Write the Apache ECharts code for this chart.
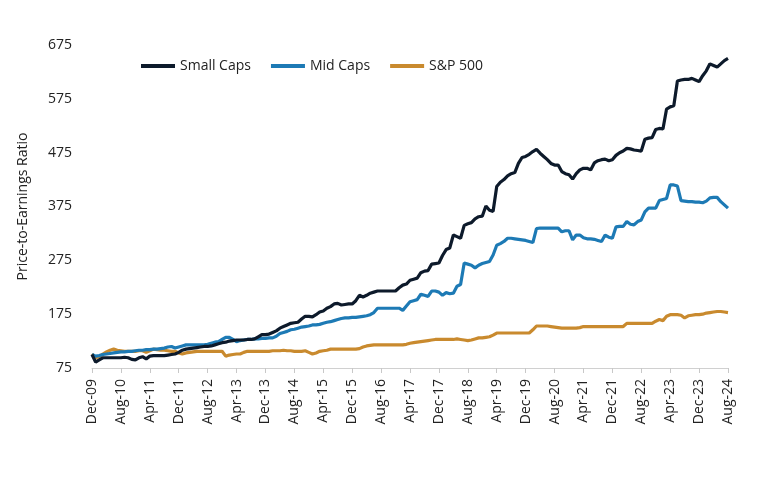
<!DOCTYPE html>
<html>
<head>
<meta charset="utf-8">
<script src="https://cdn.jsdelivr.net/npm/echarts@6/dist/echarts.min.js"></script>
<style>
html,body{margin:0;padding:0;background:#fff;}
#chart{width:768px;height:477px;}
</style>
</head>
<body>
<div id="chart"></div>
<script>
// Monthly categories Dec-09 .. Aug-24
var monthNames = ["Jan","Feb","Mar","Apr","May","Jun","Jul","Aug","Sep","Oct","Nov","Dec"];
var categories = [];
(function(){
  var m = 11, y = 2009;
  while (!(y === 2024 && m === 8)) {
    categories.push(monthNames[m] + "-" + String(y % 100).padStart(2, "0"));
    m++; if (m === 12) { m = 0; y++; }
  }
})();

var yTicks = [75, 175, 275, 375, 475, 575, 675];

var smallCaps = [
100,86,90,94,94,94,94,94,94,95,94,91,
90,94,96,92,97,98,98,98,98,99,100,101,
104,108,110,111,112,113,114,115,115,116,118,120,
122,123,125,126,127,127,127,128,128,129,133,137,
137,138,141,144,149,152,155,158,159,160,166,171,
171,170,174,179,181,186,189,194,195,192,193,194,
194,200,210,207,210,214,216,218,218,218,218,218,
218,224,229,231,238,240,242,252,255,256,268,269,
270,284,295,298,322,319,316,340,343,345,352,356,
357,376,368,366,412,420,425,432,436,438,455,466,
468,472,477,481,474,468,462,455,452,452,440,436,
434,426,436,443,446,446,443,456,460,462,463,460,
462,470,475,478,483,482,480,479,478,500,502,503,
518,520,519,556,560,562,608,610,611,611,613,610,
607,618,627,640,637,634,640,646,650
];

var midCaps = [
100,97,98,100,101,102,103,104,105,105,106,106,
107,108,108,109,109,110,110,111,112,114,115,112,
114,116,118,118,118,118,118,118,119,121,123,124,
128,132,132,128,124,126,127,128,128,129,129,130,
130,131,131,134,139,141,143,146,147,149,151,152,
153,155,155,156,158,160,161,163,165,167,168,168,
169,169,170,171,172,174,178,186,186,186,186,186,
186,186,182,190,198,200,202,212,210,208,218,218,
216,210,215,213,214,227,230,270,268,266,261,266,
269,271,273,285,303,306,310,316,316,315,314,313,
312,310,308,334,335,335,335,335,335,335,328,330,
330,313,322,322,317,315,315,314,312,310,322,318,
316,337,338,338,347,342,341,347,350,365,372,372,
372,386,388,390,415,415,413,386,385,384,384,383,
383,382,385,391,392,392,384,378,372
];

var sp500 = [
101,94,96,101,105,108,110,108,107,106,106,106,
106,107,107,104,107,110,109,108,108,107,106,106,
103,101,103,104,105,106,106,106,106,106,106,106,
106,97,99,100,101,101,104,106,106,106,106,106,
106,106,107,107,107,108,107,107,106,106,106,107,
104,101,103,106,107,108,110,110,110,110,110,110,
110,110,111,114,116,117,118,118,118,118,118,118,
118,118,118,119,121,122,123,124,125,126,127,128,
128,128,128,128,128,129,128,127,126,127,129,131,
131,132,133,136,140,140,140,140,140,140,140,140,
140,140,146,153,153,153,153,152,151,150,149,149,
149,149,149,150,152,152,152,152,152,152,152,152,
152,152,152,152,158,158,158,158,158,158,158,158,
162,165,163,171,174,174,174,173,168,172,173,174,
174,175,177,178,179,180,180,179,178
];

var seriesNames = ["Small Caps", "Mid Caps", "S&P 500"];
var seriesColors = ["#0d1a2b", "#1d7ab5", "#c98a2e"];
var seriesData = [smallCaps, midCaps, sp500];

var chart = echarts.init(document.getElementById("chart"), null, {renderer: "canvas"});
var font = "'Open Sans', 'Noto Sans', sans-serif";

var option = {
  animation: false,
  backgroundColor: "#ffffff",
  textStyle: {fontFamily: font},
  legend: {
    left: 136,
    top: 54,
    icon: "rect",
    itemWidth: 34,
    itemHeight: 4,
    itemGap: 20,
    textStyle: {fontFamily: font, fontSize: 14, color: "#222"},
    data: seriesNames
  },
  grid: {left: 92, right: 40, top: 45, bottom: 109, containLabel: false},
  xAxis: {
    type: "category",
    data: categories,
    boundaryGap: false,
    axisLine: {show: true, lineStyle: {color: "#d0d0d0", width: 1}},
    axisTick: {show: true, interval: 7, length: 5, lineStyle: {color: "#c8c8c8"}},
    axisLabel: {
      interval: 7,
      rotate: 90,
      fontFamily: font,
      fontSize: 14,
      color: "#222",
      margin: 11
    },
    splitLine: {show: false}
  },
  yAxis: {
    type: "value",
    min: yTicks[0],
    max: yTicks[yTicks.length - 1],
    interval: 100,
    name: "Price-to-Earnings Ratio",
    nameLocation: "middle",
    nameGap: 62,
    nameTextStyle: {fontFamily: font, fontSize: 14, color: "#222"},
    axisLine: {show: false},
    axisTick: {show: false},
    splitLine: {show: false},
    axisLabel: {fontFamily: font, fontSize: 14, color: "#222", margin: 20}
  },
  series: seriesNames.map(function(name, k){
    return {
      name: name,
      type: "line",
      data: seriesData[k],
      showSymbol: false,
      symbol: "none",
      smooth: false,
      z: 3 - k,
      lineStyle: {width: 3.2, color: seriesColors[k]},
      itemStyle: {color: seriesColors[k]}
    };
  })
};
chart.setOption(option);
</script>
</body>
</html>
